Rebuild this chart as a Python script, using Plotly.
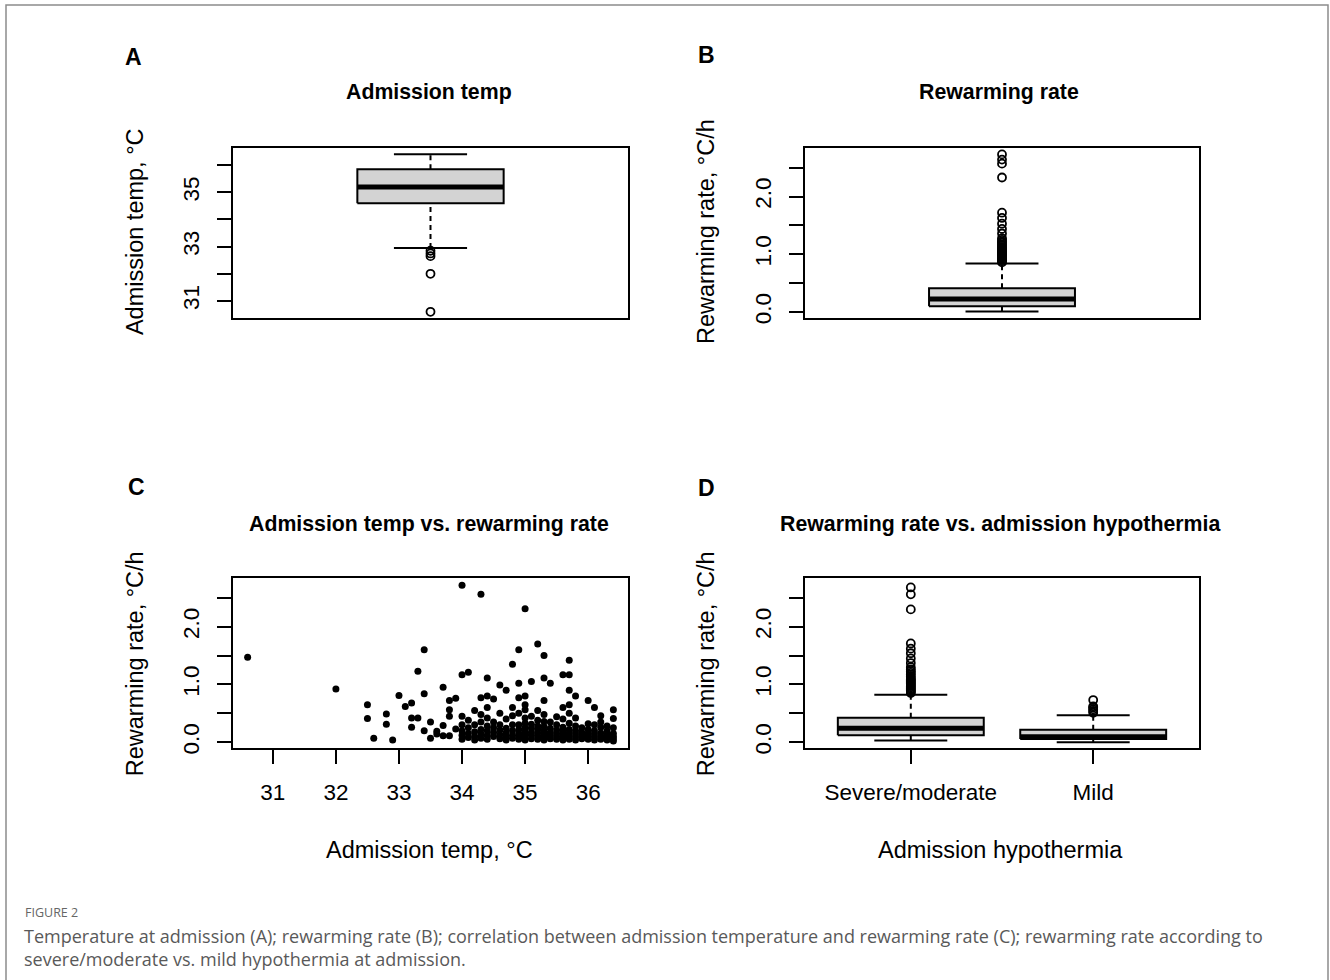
import plotly.graph_objects as go

W, H = 1330, 980
YK = 1.0065  # small vertical correction observed in rendering

# ---------------- data ----------------
# Box summaries: [lower whisker, Q1, median, Q3, upper whisker]
adm_temp_box = [32.95, 34.6, 35.2, 35.85, 36.4]
adm_temp_outliers = [32.85, 32.75, 32.65, 32.0, 30.6]

rew_rate_box = [0.01, 0.10, 0.225, 0.41, 0.84]
rew_rate_outliers = [0.86, 0.88, 0.90, 0.92, 0.94, 0.96, 0.98, 1.00, 1.02, 1.04,
                     1.06, 1.08, 1.10, 1.12, 1.15, 1.17, 1.20, 1.22, 1.25, 1.28,
                     1.36, 1.44, 1.53, 1.63, 1.72, 2.33, 2.57, 2.64, 2.73]

hypo_groups = ["Severe/moderate", "Mild"]
severe_box = [0.03, 0.12, 0.24, 0.425, 0.82]
severe_outliers = [0.85, 0.87, 0.89, 0.91, 0.93, 0.95, 0.97, 0.99, 1.01, 1.03,
                   1.05, 1.07, 1.09, 1.11, 1.14, 1.17, 1.20, 1.23, 1.26, 1.30,
                   1.37, 1.45, 1.54, 1.62, 1.71, 2.30, 2.56, 2.68]
mild_box = [0.0, 0.055, 0.095, 0.215, 0.465]
mild_outliers = [0.51, 0.54, 0.57, 0.60, 0.62, 0.73]

# Scatter: admission temperature (°C) vs rewarming rate (°C/h)
scatter_temp = [
    30.6, 32.0, 32.5, 32.5, 32.6, 32.8, 32.8, 32.9, 33.0, 33.1, 33.2, 33.2, 33.3,
    33.2, 33.3, 33.4, 33.4, 33.4, 33.5, 33.5, 33.6, 33.6, 33.7, 33.7, 33.8, 33.9,
    33.8, 33.8, 33.8, 33.7, 33.9, 34.0, 34.0, 34.1, 34.3, 34.4, 34.3, 34.4, 34.5,
    34.6, 34.7, 34.8, 34.9, 35.0, 34.9, 34.9, 35.0, 35.1, 35.2, 35.3, 35.3, 35.4,
    35.3, 35.6, 35.7, 35.7, 35.7, 35.8, 36.0, 36.1, 36.2, 36.4, 36.4, 36.4,
    34.0, 34.0, 34.0, 34.0, 34.0,
    34.1, 34.1, 34.1, 34.1,
    34.2, 34.2, 34.2, 34.2, 34.2,
    34.3, 34.3, 34.3, 34.3, 34.3,
    34.4, 34.4, 34.4, 34.4, 34.4, 34.4,
    34.5, 34.5, 34.5, 34.5,
    34.6, 34.6, 34.6, 34.6, 34.6,
    34.7, 34.7, 34.7, 34.7, 34.7,
    34.8, 34.8, 34.8, 34.8, 34.8, 34.8,
    34.9, 34.9, 34.9, 34.9, 34.9, 34.9,
    35.0, 35.0, 35.0, 35.0, 35.0, 35.0, 35.0, 35.0, 35.0,
    35.1, 35.1, 35.1, 35.1, 35.1, 35.1,
    35.2, 35.2, 35.2, 35.2, 35.2, 35.2, 35.2,
    35.3, 35.3, 35.3, 35.3, 35.3, 35.3, 35.3,
    35.4, 35.4, 35.4, 35.4, 35.4,
    35.5, 35.5, 35.5, 35.5, 35.5, 35.5,
    35.6, 35.6, 35.6, 35.6, 35.6, 35.6, 35.6,
    35.7, 35.7, 35.7, 35.7, 35.7, 35.7, 35.7,
    35.8, 35.8, 35.8, 35.8, 35.8, 35.8,
    35.9, 35.9, 35.9, 35.9,
    36.0, 36.0, 36.0, 36.0, 36.0,
    36.1, 36.1, 36.1, 36.1, 36.1,
    36.2, 36.2, 36.2, 36.2, 36.2,
    36.3, 36.3, 36.3, 36.3, 36.3,
    36.4, 36.4, 36.4, 36.4,
]
scatter_rate = [
    1.47, 0.92, 0.65, 0.41, 0.07, 0.49, 0.31, 0.04, 0.81, 0.62, 0.68, 0.42, 0.42,
    0.26, 1.23, 1.60, 0.84, 0.20, 0.35, 0.07, 0.19, 0.14, 0.95, 0.29, 0.72, 0.76,
    0.56, 0.45, 0.11, 0.11, 0.23, 2.72, 1.17, 1.21, 2.56, 1.11, 0.77, 0.80, 0.75,
    0.99, 0.90, 1.35, 1.60, 2.31, 1.02, 0.77, 0.80, 1.05, 1.70, 1.50, 1.11, 1.02,
    0.72, 1.17, 1.17, 1.42, 0.90, 0.80, 0.72, 0.60, 0.46, 0.56, 0.41, 0.25,
    0.05, 0.12, 0.20, 0.30, 0.45,
    0.08, 0.15, 0.25, 0.38,
    0.04, 0.10, 0.18, 0.30, 0.55,
    0.07, 0.14, 0.22, 0.35, 0.48,
    0.05, 0.12, 0.20, 0.28, 0.42, 0.60,
    0.10, 0.17, 0.25, 0.35,
    0.06, 0.13, 0.21, 0.30, 0.50,
    0.04, 0.09, 0.16, 0.24, 0.40,
    0.07, 0.12, 0.20, 0.30, 0.46, 0.60,
    0.05, 0.10, 0.15, 0.22, 0.30, 0.50,
    0.04, 0.08, 0.13, 0.18, 0.25, 0.33, 0.42, 0.56, 0.65,
    0.06, 0.12, 0.17, 0.24, 0.31, 0.45,
    0.05, 0.10, 0.16, 0.22, 0.28, 0.38, 0.55,
    0.04, 0.09, 0.14, 0.20, 0.27, 0.36, 0.48,
    0.06, 0.11, 0.17, 0.24, 0.35,
    0.05, 0.10, 0.15, 0.21, 0.30, 0.44,
    0.04, 0.08, 0.13, 0.19, 0.26, 0.40, 0.60,
    0.05, 0.10, 0.16, 0.22, 0.33, 0.50, 0.65,
    0.04, 0.09, 0.14, 0.20, 0.28, 0.42,
    0.06, 0.11, 0.17, 0.25,
    0.05, 0.10, 0.15, 0.22, 0.32,
    0.04, 0.09, 0.14, 0.20, 0.30,
    0.05, 0.10, 0.16, 0.26, 0.35,
    0.04, 0.08, 0.13, 0.20, 0.28,
    0.02, 0.06, 0.10, 0.15,
]

temp_ticks = [31, 32, 33, 34, 35, 36]
temp_ticklabels_A = ["31", "", "33", "", "35", ""]
rate_ticks = [0.0, 0.5, 1.0, 1.5, 2.0, 2.5]
rate_ticklabels = ["0.0", "", "1.0", "", "2.0", ""]

# ---------------- layout helpers ----------------
FONT = "Liberation Sans, Arial, sans-serif"


def px_x(p):
    return p / W


def px_y(p):
    return 1 - p * YK / H


fig = go.Figure()


def add_box(pos, stats, outliers, width, xa, ya):
    lo, q1, md, q3, hi = stats
    x0, x1 = pos - width / 2, pos + width / 2
    c0, c1 = pos - width / 4, pos + width / 4
    common = dict(xaxis=xa, yaxis=ya, showlegend=False, hoverinfo="skip")
    # dashed whiskers
    fig.add_trace(go.Scatter(x=[pos, pos], y=[q3, hi], mode="lines",
                             line=dict(color="black", width=2, dash="5px,4px"), **common))
    fig.add_trace(go.Scatter(x=[pos, pos], y=[lo, q1], mode="lines",
                             line=dict(color="black", width=2, dash="5px,4px"), **common))
    # staples
    fig.add_trace(go.Scatter(x=[c0, c1], y=[hi, hi], mode="lines",
                             line=dict(color="black", width=2), **common))
    fig.add_trace(go.Scatter(x=[c0, c1], y=[lo, lo], mode="lines",
                             line=dict(color="black", width=2), **common))
    # box
    fig.add_trace(go.Scatter(x=[x0, x1, x1, x0, x0], y=[q1, q1, q3, q3, q1],
                             mode="lines", fill="toself", fillcolor="#D3D3D3",
                             line=dict(color="black", width=2), **common))
    # median
    fig.add_trace(go.Scatter(x=[x0, x1], y=[md, md], mode="lines",
                             line=dict(color="black", width=5), **common))
    # outliers
    fig.add_trace(go.Scatter(x=[pos] * len(outliers), y=outliers, mode="markers",
                             marker=dict(symbol="circle-open", size=8, color="black",
                                         line=dict(width=1.8, color="black")),
                             **common))


# Panel A
add_box(1, adm_temp_box, adm_temp_outliers, 0.4, "x", "y")
# Panel B
add_box(1, rew_rate_box, rew_rate_outliers, 0.4, "x2", "y2")
# Panel C
fig.add_trace(go.Scatter(x=scatter_temp, y=scatter_rate, mode="markers",
                         marker=dict(symbol="circle", size=7, color="black"),
                         xaxis="x3", yaxis="y3", showlegend=False))
# Panel D
add_box(1, severe_box, severe_outliers, 0.8, "x4", "y4")
add_box(2, mild_box, mild_outliers, 0.8, "x4", "y4")

# plot boxes in pixels: (left, right, top, bottom)
boxes = {
    "A": (233, 628, 148, 318),
    "B": (805, 1199, 148, 318),
    "C": (233, 628, 578, 748),
    "D": (805, 1199, 578, 748),
}

axis_base = dict(showline=True, mirror=True, linecolor="black", linewidth=2,
                 showgrid=False, zeroline=False,
                 tickfont=dict(family=FONT, size=22.5, color="black"),
                 tickcolor="black", tickwidth=2, ticklen=14)

rate_range = [-0.105, 2.84]


def dom(key):
    l, r, t, b = boxes[key]
    return [px_x(l), px_x(r)], [px_y(b), px_y(t)]


dxA, dyA = dom("A")
dxB, dyB = dom("B")
dxC, dyC = dom("C")
dxD, dyD = dom("D")

fig.update_layout(
    width=W, height=H,
    margin=dict(l=0, r=0, t=0, b=0),
    paper_bgcolor="white", plot_bgcolor="white",
    xaxis=dict(axis_base, domain=dxA, anchor="y", range=[0.46, 1.54],
               showticklabels=False, ticks=""),
    yaxis=dict(axis_base, domain=dyA, anchor="x", range=[30.368, 36.632],
               tickvals=temp_ticks, ticktext=temp_ticklabels_A, ticks="outside",
               tickangle=-90, ticklabelstandoff=9),
    xaxis2=dict(axis_base, domain=dxB, anchor="y2", range=[0.46, 1.54],
                showticklabels=False, ticks=""),
    yaxis2=dict(axis_base, domain=dyB, anchor="x2", range=rate_range,
                tickvals=rate_ticks, ticktext=rate_ticklabels, ticks="outside",
                tickangle=-90, ticklabelstandoff=9),
    xaxis3=dict(axis_base, domain=dxC, anchor="y3", range=[30.368, 36.632],
                tickvals=temp_ticks, ticktext=[str(t) for t in temp_ticks],
                ticks="outside", ticklabelstandoff=9),
    yaxis3=dict(axis_base, domain=dyC, anchor="x3", range=rate_range,
                tickvals=rate_ticks, ticktext=rate_ticklabels, ticks="outside",
                tickangle=-90, ticklabelstandoff=9),
    xaxis4=dict(axis_base, domain=dxD, anchor="y4", range=[0.42, 2.58],
                tickvals=[1, 2], ticktext=hypo_groups,
                ticks="outside", ticklabelstandoff=9),
    yaxis4=dict(axis_base, domain=dyD, anchor="x4", range=rate_range,
                tickvals=rate_ticks, ticktext=rate_ticklabels, ticks="outside",
                tickangle=-90, ticklabelstandoff=9),
)

ann = []


def text(x, y, s, size, bold=False, angle=0, xanchor="center", color="black", family=FONT):
    ann.append(dict(x=px_x(x), y=px_y(y), xref="paper", yref="paper",
                    text=f"<b>{s}</b>" if bold else s, showarrow=False,
                    textangle=angle, xanchor=xanchor, yanchor="middle",
                    font=dict(family=family, size=size, color=color)))


# panel letters
text(133, 57, "A", 23, bold=True)
text(706, 55, "B", 23, bold=True)
text(136, 487, "C", 23, bold=True)
text(706, 488, "D", 23, bold=True)
# titles
text(429, 92, "Admission temp", 21.3, bold=True)
text(999, 92, "Rewarming rate", 21.3, bold=True)
text(429, 524, "Admission temp vs. rewarming rate", 21.3, bold=True)
text(1000, 524, "Rewarming rate vs. admission hypothermia", 21.3, bold=True)
# y-axis titles
text(135, 232, "Admission temp, °C", 23.5, angle=-90)
text(706, 232, "Rewarming rate, °C/h", 23.5, angle=-90)
text(135, 664, "Rewarming rate, °C/h", 23.5, angle=-90)
text(706, 664, "Rewarming rate, °C/h", 23.5, angle=-90)
# x-axis titles
text(429, 850, "Admission temp, °C", 23.5)
text(1000, 850, "Admission hypothermia", 23.5)
# caption
CAP = "Open Sans, Noto Sans, sans-serif"
text(23, 912, "FIGURE 2", 12.5, xanchor="left", color="#666666", family=CAP)
text(22, 936, "Temperature at admission (A); rewarming rate (B); correlation between "
     "admission temperature and rewarming rate (C); rewarming rate according to",
     18, xanchor="left", color="#595959", family=CAP)
text(22, 959, "severe/moderate vs. mild hypothermia at admission.", 18,
     xanchor="left", color="#595959", family=CAP)

fig.update_layout(annotations=ann)

# outer frame
fig.add_shape(type="rect", xref="paper", yref="paper",
              x0=px_x(6), x1=px_x(1328), y0=-0.05, y1=px_y(5),
              line=dict(color="#8c8c8c", width=1.5), fillcolor="rgba(0,0,0,0)")

fig.write_html(
    "out.html",
    config={"displayModeBar": False},
    post_script="document.body.style.margin='0';document.body.style.overflow='hidden';",
)
